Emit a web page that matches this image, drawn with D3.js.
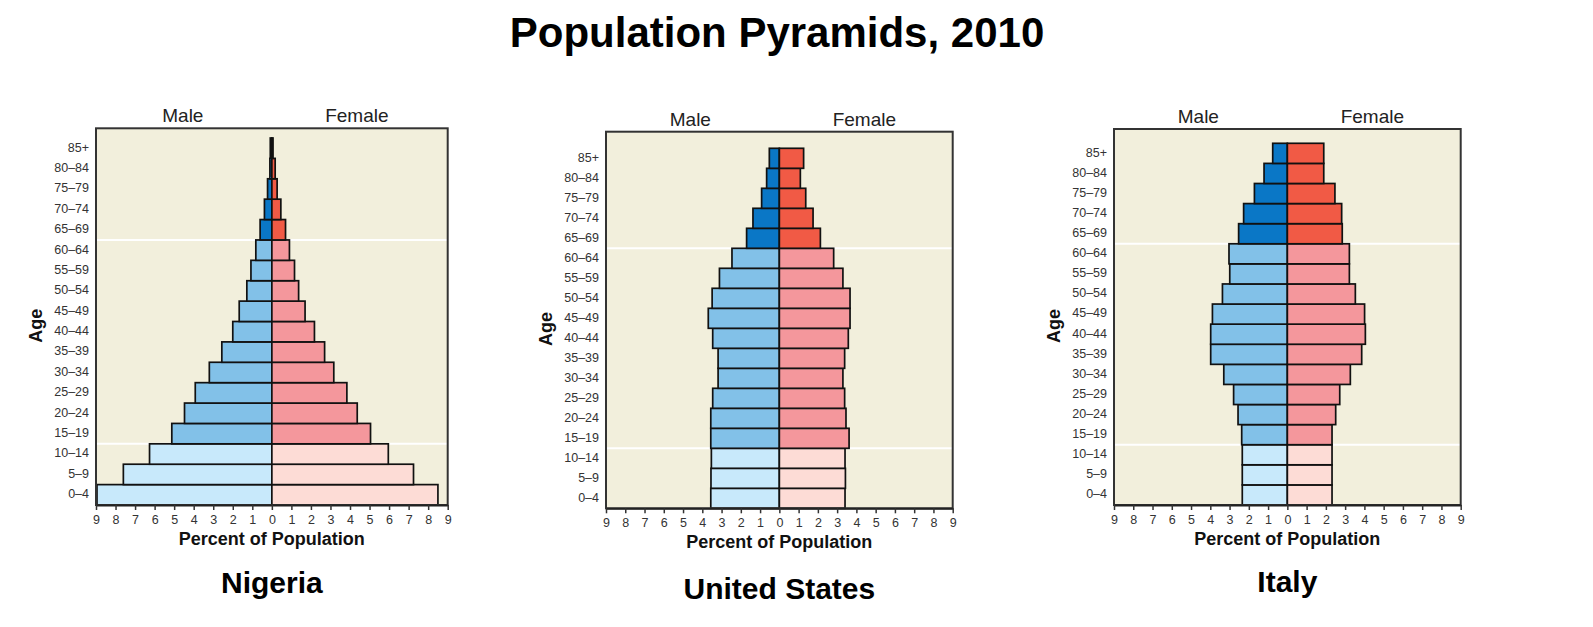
<!DOCTYPE html>
<html lang="en">

<head>
    <meta charset="utf-8">
    <script src="https://d3js.org/d3.v7.min.js"></script>
    <style>
        body { margin: 0; background: #fff; }
        svg { display: block; font-family: "Liberation Sans", Arial, sans-serif; }
    </style>
</head>

<body>
    <div id="chart"></div>

    <script>
        // age groups, youngest first
        const ageGroups = ["0–4", "5–9", "10–14", "15–19", "20–24", "25–29", "30–34", "35–39", "40–44",
            "45–49", "50–54", "55–59", "60–64", "65–69", "70–74", "75–79", "80–84", "85+"];

        // percent of population, same order as ageGroups
        const nigeriaMale = [8.95, 7.6, 6.26, 5.12, 4.47, 3.92, 3.2, 2.56, 2.0, 1.67, 1.28, 1.07, 0.82, 0.6, 0.38, 0.22, 0.1, 0.08];
        const nigeriaFemale = [8.5, 7.25, 5.96, 5.05, 4.37, 3.84, 3.17, 2.7, 2.18, 1.7, 1.37, 1.16, 0.9, 0.7, 0.46, 0.27, 0.17, 0.06];
        const usMale = [3.56, 3.55, 3.53, 3.56, 3.56, 3.46, 3.18, 3.18, 3.46, 3.69, 3.49, 3.11, 2.46, 1.7, 1.37, 0.92, 0.66, 0.52];
        const usFemale = [3.41, 3.43, 3.41, 3.62, 3.46, 3.39, 3.3, 3.39, 3.58, 3.67, 3.67, 3.3, 2.82, 2.13, 1.75, 1.37, 1.09, 1.26];
        const italyMale = [2.34, 2.34, 2.34, 2.37, 2.56, 2.79, 3.3, 3.98, 3.98, 3.89, 3.37, 2.99, 3.03, 2.53, 2.27, 1.71, 1.21, 0.76];
        const italyFemale = [2.32, 2.32, 2.32, 2.32, 2.51, 2.72, 3.27, 3.86, 4.05, 4.01, 3.53, 3.22, 3.22, 2.85, 2.82, 2.47, 1.89, 1.89];

        const countries = ["Nigeria", "United States", "Italy"];
        const tickValues = d3.range(-9, 10); // 9 ... 0 ... 9

        // bar colours per age band: 0-14, 15-64, 65+
        const maleColors = ["#c8e9fb", "#82c1e8", "#0a77c6"];
        const femaleColors = ["#fddcd6", "#f4979c", "#f15a45"];
        function band(i) {
            if (i < 3) return 0;
            if (i < 13) return 1;
            return 2;
        }

        // panel placement
        const panels = [
            { left: 96, width: 351.7, frameTop: 128.3, barTop: 138, bottom: 505, nameY: 593, male: nigeriaMale, female: nigeriaFemale },
            { left: 606, width: 346.7, frameTop: 131.7, barTop: 148.3, bottom: 508.3, nameY: 599, male: usMale, female: usFemale },
            { left: 1114, width: 346.7, frameTop: 129, barTop: 143.3, bottom: 505, nameY: 592, male: italyMale, female: italyFemale }
        ];

        const svg = d3.select("#chart")
            .append("svg")
            .attr("width", 1593)
            .attr("height", 627);

        // main title
        svg.append("text")
            .attr("x", 777).attr("y", 47)
            .attr("text-anchor", "middle")
            .attr("font-size", 42).attr("font-weight", "bold")
            .text("Population Pyramids, 2010");

        function drawPyramid(p, name) {
            const g = svg.append("g");
            const right = p.left + p.width;
            const mid = p.left + p.width / 2;

            const x = d3.scaleLinear().domain([-9, 9]).range([p.left, right]);
            const y = d3.scaleBand()
                .domain(ageGroups.slice().reverse())
                .range([p.barTop, p.bottom])
                .padding(0);

            // background
            g.append("rect")
                .attr("x", p.left).attr("y", p.frameTop)
                .attr("width", p.width).attr("height", p.bottom - p.frameTop)
                .attr("fill", "#f2efdc");

            // white lines between age bands
            [ageGroups[12], ageGroups[2]].forEach(a => {
                g.append("line")
                    .attr("x1", p.left).attr("x2", right)
                    .attr("y1", y(a)).attr("y2", y(a))
                    .attr("stroke", "#fff").attr("stroke-width", 2);
            });

            // male bars
            g.selectAll(".male")
                .data(p.male)
                .enter()
                .append("rect")
                .attr("class", "male")
                .attr("x", d => x(-d)).attr("y", (d, i) => y(ageGroups[i]))
                .attr("width", d => x(0) - x(-d)).attr("height", y.bandwidth())
                .attr("fill", (d, i) => maleColors[band(i)])
                .attr("stroke", "#111").attr("stroke-width", 1.7);

            // female bars
            g.selectAll(".female")
                .data(p.female)
                .enter()
                .append("rect")
                .attr("class", "female")
                .attr("x", x(0)).attr("y", (d, i) => y(ageGroups[i]))
                .attr("width", d => x(d) - x(0)).attr("height", y.bandwidth())
                .attr("fill", (d, i) => femaleColors[band(i)])
                .attr("stroke", "#111").attr("stroke-width", 1.7);

            // frame
            g.append("rect")
                .attr("x", p.left).attr("y", p.frameTop)
                .attr("width", p.width).attr("height", p.bottom - p.frameTop)
                .attr("fill", "none").attr("stroke", "#333").attr("stroke-width", 2);

            // bottom axis
            const axis = g.append("g")
                .attr("transform", "translate(0," + p.bottom + ")")
                .call(d3.axisBottom(x).tickValues(tickValues).tickFormat(d => Math.abs(d))
                    .tickSize(5).tickPadding(5).tickSizeOuter(0));
            axis.select(".domain").attr("stroke", "#222").attr("stroke-width", 2);
            axis.selectAll(".tick line").attr("stroke", "#333").attr("stroke-width", 1.5);
            axis.selectAll(".tick text").attr("font-size", 12.5).attr("fill", "#333")
                .attr("font-family", "Liberation Sans, Arial, sans-serif");

            // age labels
            g.selectAll(".age")
                .data(ageGroups)
                .enter()
                .append("text")
                .attr("class", "age")
                .attr("x", p.left - 7).attr("y", d => y(d) + y.bandwidth() / 2 - 1)
                .attr("dy", "0.35em")
                .attr("text-anchor", "end")
                .attr("font-size", 12.5).attr("fill", "#333")
                .text(d => d);

            // Male / Female headers
            g.append("text")
                .attr("x", mid - 89).attr("y", p.frameTop - 6)
                .attr("text-anchor", "middle").attr("font-size", 19).attr("fill", "#222")
                .text("Male");
            g.append("text")
                .attr("x", mid + 85).attr("y", p.frameTop - 6)
                .attr("text-anchor", "middle").attr("font-size", 19).attr("fill", "#222")
                .text("Female");

            // y axis title
            g.append("text")
                .attr("transform", "translate(" + (p.left - 54) + "," + ((p.frameTop + p.bottom) / 2 + 9) + ") rotate(-90)")
                .attr("text-anchor", "middle")
                .attr("font-size", 18).attr("font-weight", "bold").attr("fill", "#111")
                .text("Age");

            // x axis title
            g.append("text")
                .attr("x", mid).attr("y", p.bottom + 40)
                .attr("text-anchor", "middle")
                .attr("font-size", 18).attr("font-weight", "bold").attr("fill", "#111")
                .text("Percent of Population");

            // country name
            g.append("text")
                .attr("x", mid).attr("y", p.nameY)
                .attr("text-anchor", "middle")
                .attr("font-size", 30).attr("font-weight", "bold")
                .text(name);
        }

        panels.forEach((p, i) => drawPyramid(p, countries[i]));
    </script>
</body>

</html>
